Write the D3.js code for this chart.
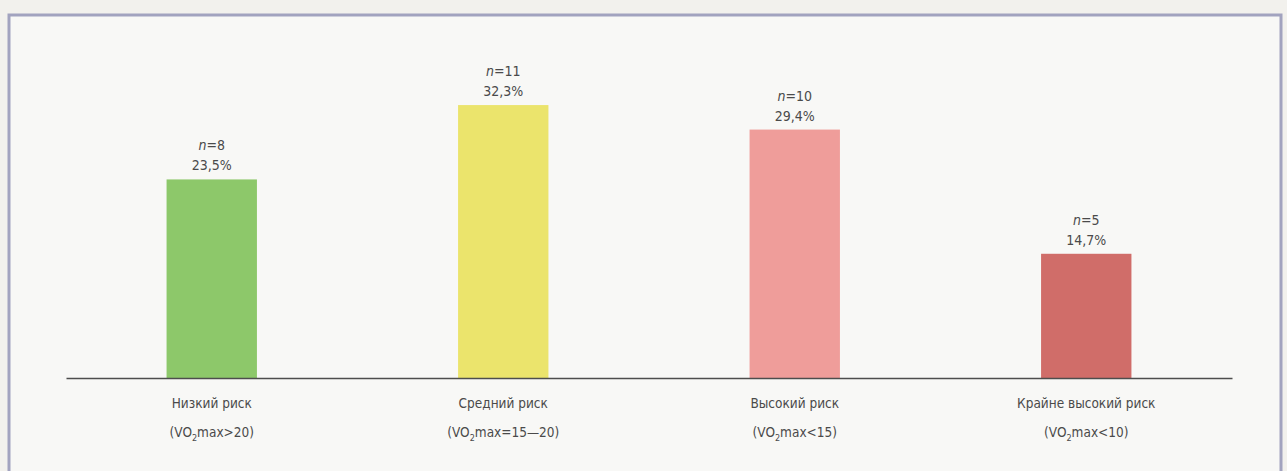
<!DOCTYPE html>
<html>
<head>
<meta charset="utf-8">
<script src="https://cdn.jsdelivr.net/npm/d3@7"></script>
<style>
  html, body { margin: 0; padding: 0; background: #f2f1ed; }
  svg { display: block; }
  text { font-family: 'Liberation Sans Narrow', 'DejaVu Sans Condensed', 'Arial Narrow', sans-serif; fill: #4a4a4a; }
</style>
</head>
<body>
<svg id="chart" width="1287" height="471"></svg>
<script>
// Risk groups by peak oxygen uptake (VO2max)
const riskGroups = ["Низкий риск", "Средний риск", "Высокий риск", "Крайне высокий риск"];
const vo2Ranges  = [">20", "=15—20", "<15", "<10"];
const patientCounts = [8, 11, 10, 5];
const percentShares = [23.5, 32.3, 29.4, 14.7];
const barColors = ["#8dc86a", "#ebe46c", "#ef9d9a", "#d06d69"];

const svg = d3.select("#chart");
const W = 1287, H = 471;

// page panel with its frame
svg.append("rect")
  .attr("x", 9).attr("y", 15)
  .attr("width", 1272).attr("height", H)
  .attr("fill", "#f8f8f6")
  .attr("stroke", "#a2a3bf")
  .attr("stroke-width", 3);

const left = 66, right = 1232, baseY = 378;

const x = d3.scaleBand()
  .domain(riskGroups)
  .range([left, right])
  .paddingInner(0.69)
  .paddingOuter(0.345);

const y = d3.scaleLinear()
  .domain([0, 35])
  .range([baseY, baseY - 35 * 8.45]);

const fmt = v => d3.format(".1f")(v).replace(".", ",") + "%";

const data = riskGroups.map((g, i) => ({
  group: g, range: vo2Ranges[i], n: patientCounts[i], pct: percentShares[i], color: barColors[i]
}));

// bars
svg.append("g").selectAll("rect")
  .data(data)
  .join("rect")
  .attr("x", d => x(d.group))
  .attr("y", d => y(d.pct))
  .attr("width", x.bandwidth())
  .attr("height", d => y(0) - y(d.pct))
  .attr("fill", d => d.color);

// value labels: count and share
const labels = svg.append("g").selectAll("g")
  .data(data)
  .join("g")
  .attr("transform", d => `translate(${x(d.group) + x.bandwidth() / 2},${y(d.pct)})`);

const nText = labels.append("text")
  .attr("y", -29)
  .attr("text-anchor", "middle")
  .attr("font-size", 14);
nText.append("tspan").attr("font-style", "italic").text("n");
nText.append("tspan").text(d => "=" + d.n);

labels.append("text")
  .attr("y", -9)
  .attr("text-anchor", "middle")
  .attr("font-size", 14)
  .text(d => fmt(d.pct));

// x axis (domain line only)
const xAxis = d3.axisBottom(x).tickSize(0).tickFormat("");
const axisG = svg.append("g")
  .attr("transform", `translate(0,${baseY})`)
  .call(xAxis);
axisG.select(".domain").attr("stroke", "#4d4d4d").attr("stroke-width", 1.6);

// category labels
const cat = svg.append("g").selectAll("text")
  .data(data)
  .join("text")
  .attr("text-anchor", "middle")
  .attr("font-size", 13.5)
  .attr("transform", d => `translate(${x(d.group) + x.bandwidth() / 2},0)`);

cat.append("tspan").attr("x", 0).attr("y", 408).text(d => d.group);
const line2 = cat.append("tspan").attr("x", 0).attr("y", 437);
cat.each(function(d) {
  const t = d3.select(this).select("tspan:nth-child(2)");
  t.append("tspan").text("(VO");
  t.append("tspan").attr("font-size", 9).attr("dy", 4).text("2");
  t.append("tspan").attr("dy", -4).text("max" + d.range + ")");
});
</script>
</body>
</html>
